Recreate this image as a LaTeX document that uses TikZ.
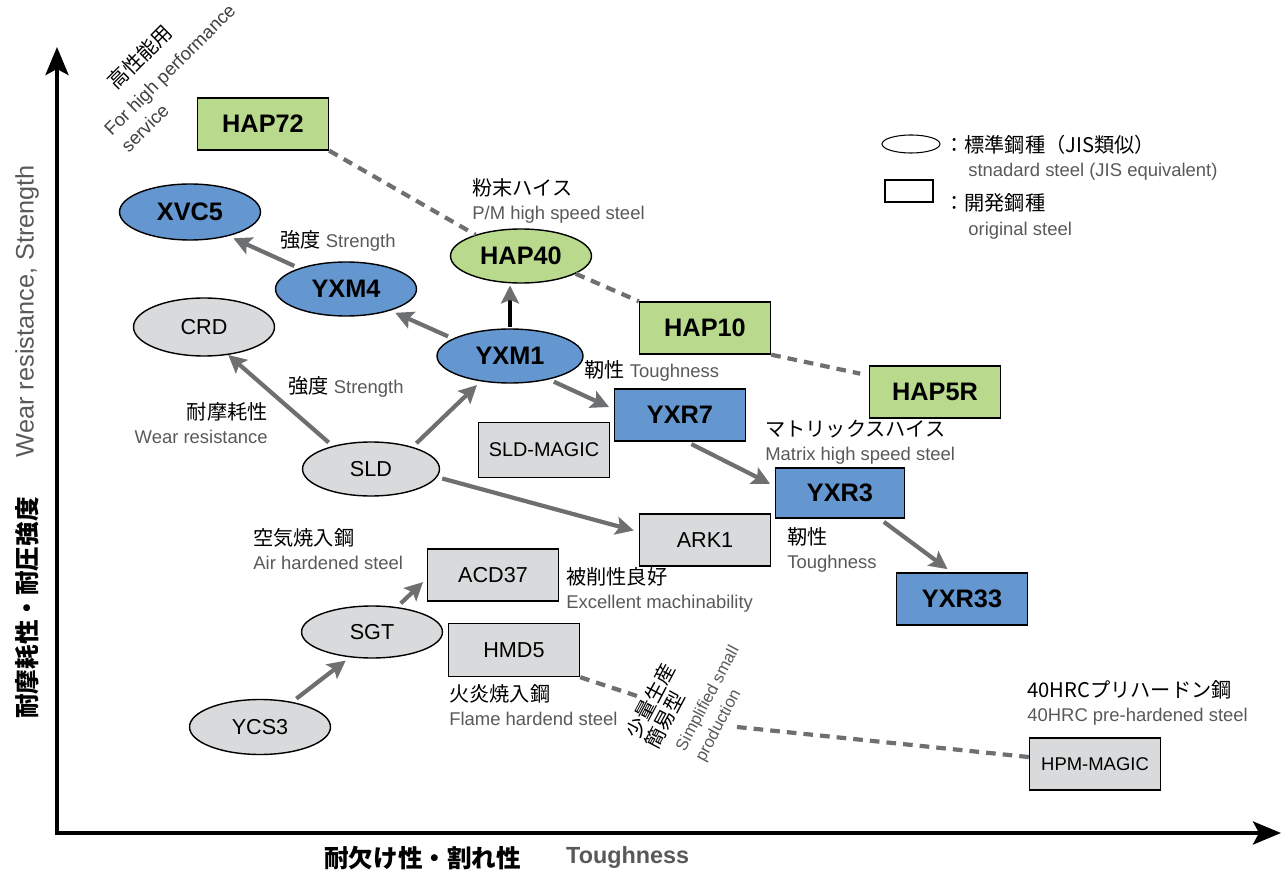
\documentclass[tikz,border=0pt]{standalone}
\usepackage{fontspec}
\setmainfont{Liberation Sans}
\newfontfamily\jpfont{Noto Sans CJK JP}
\usetikzlibrary{shapes.geometric,arrows.meta}

\definecolor{steelblue}{RGB}{100,150,208}
\definecolor{steelgreen}{RGB}{185,217,140}
\definecolor{steelgray}{RGB}{216,218,219}
\definecolor{arrowgray}{RGB}{110,111,113}
\definecolor{textgray}{RGB}{88,89,91}

\newcommand{\jtext}[1]{{\jpfont\color{black}\fontsize{11.5}{13.6}\selectfont #1}}

\tikzset{
  stdsteel/.style={ellipse, draw, line width=0.8pt, inner sep=0pt,
    minimum width=2.82cm, minimum height=1.08cm},
  devsteel/.style={rectangle, draw, line width=0.8pt, inner sep=0pt,
    minimum width=2.62cm, minimum height=1.04cm},
  bluegrade/.style={fill=steelblue, font=\bfseries\fontsize{14.4}{16}\selectfont},
  greengrade/.style={fill=steelgreen, font=\bfseries\fontsize{14.4}{16}\selectfont},
  graygrade/.style={fill=steelgray, font=\fontsize{12.3}{14}\selectfont},
  lbl/.style={inner sep=0pt, align=left, text=textgray,
    font=\fontsize{10.5}{13.6}\selectfont},
  upgrade/.style={draw=arrowgray, line width=2.4pt, shorten <=3pt, shorten >=3pt,
    arrows={-Stealth[length=0.36cm,width=0.36cm,inset=0.07cm]}},
  dashlink/.style={draw=arrowgray, line width=2.4pt, dash pattern=on 5.5pt off 4pt},
  axisline/.style={line width=2.2pt,
    arrows={Stealth[length=0.56cm,width=0.46cm,inset=0.12cm]-Stealth[length=0.56cm,width=0.46cm,inset=0.12cm]}}
}

\begin{document}
\begin{tikzpicture}[x=0.02cm,y=-0.02cm]
  \useasboundingbox (0,0) rectangle (1287,874);

  % Axes
  \coordinate (origin) at (57,833);
  \coordinate (ytop) at (57,47);
  \coordinate (xend) at (1281,833);
  \draw[axisline] (ytop) -- (origin) -- (xend);
  \node[anchor=west, font=\bfseries\fontsize{14}{16}\selectfont] (xlabeljp) at (318,858) {\jpfont 耐欠け性・割れ性};
  \node[anchor=west, text=textgray, font=\bfseries\fontsize{13.3}{16}\selectfont] (xlabelen) at (560,858) {Toughness};
  \node[rotate=90, font=\bfseries\fontsize{14}{16}\selectfont] (ylabeljp) at (27,608) {\jpfont 耐摩耗性・耐圧強度};
  \node[rotate=90, text=textgray, font=\fontsize{14.4}{16}\selectfont] (ylabelen) at (27,311) {Wear resistance, Strength};

  % High performance corner
  \node[lbl, rotate=45] (hpjp) at (140,57) {\jtext{高性能用}};
  \node[lbl, rotate=45, text=black!75] (hpen) at (178,78) {For high performance\\service};

  % Powder metallurgy grades
  \node[devsteel, greengrade] (HAP72) at (263,124) {HAP72};
  \node[stdsteel, greengrade] (HAP40) at (521,256) {HAP40};
  \node[devsteel, greengrade] (HAP10) at (705,328) {HAP10};
  \node[devsteel, greengrade] (HAP5R) at (935,392) {HAP5R};

  % High speed and strength grades
  \node[stdsteel, bluegrade, minimum height=1.12cm] (XVC5) at (190,212) {XVC5};
  \node[stdsteel, bluegrade] (YXM4) at (346,289) {YXM4};
  \node[stdsteel, bluegrade, minimum width=2.92cm] (YXM1) at (510,356) {YXM1};
  \node[devsteel, bluegrade] (YXR7) at (680,415) {YXR7};
  \node[devsteel, bluegrade, minimum width=2.58cm, minimum height=1cm] (YXR3) at (840,493) {YXR3};
  \node[devsteel, bluegrade] (YXR33) at (962,599) {YXR33};

  % Cold work grades
  \node[stdsteel, graygrade, minimum height=1.16cm] (CRD) at (204,327) {CRD};
  \node[stdsteel, graygrade, minimum width=2.74cm] (SLD) at (371,469) {SLD};
  \node[devsteel, graygrade, minimum height=1.1cm, font=\fontsize{11.3}{14}\selectfont] (SLDM) at (544,450) {SLD-MAGIC};
  \node[devsteel, graygrade] (ARK1) at (705,540) {ARK1};
  \node[devsteel, graygrade] (ACD37) at (493,575) {ACD37};
  \node[stdsteel, graygrade, minimum height=1.04cm] (SGT) at (372,632) {SGT};
  \node[devsteel, graygrade, minimum height=1.06cm] (HMD5) at (514,650) {HMD5};
  \node[stdsteel, graygrade, minimum height=1.1cm] (YCS3) at (260,727) {YCS3};
  \node[devsteel, graygrade, font=\fontsize{10.5}{14}\selectfont] (HPM) at (1095,764) {HPM-MAGIC};

  % Labels
  \node[lbl, anchor=west] (strA) at (280,241) {\jtext{強度} Strength};
  \node[lbl, anchor=west] (pmlabel) at (472,201) {\jtext{粉末ハイス}\\P/M high speed steel};
  \node[lbl, anchor=west] (strB) at (288,387) {\jtext{強度} Strength};
  \node[lbl, anchor=east, align=right] (wearlabel) at (268,423) {\jtext{耐摩耗性}\\Wear resistance};
  \node[lbl, anchor=west] (tghA) at (584,371) {\jtext{靭性} Toughness};
  \node[lbl, anchor=west] (matrixlabel) at (765,442) {\jtext{マトリックスハイス}\\Matrix high speed steel};
  \node[lbl, anchor=west] (airlabel) at (253,549) {\jtext{空気焼入鋼}\\Air hardened steel};
  \node[lbl, anchor=west] (machlabel) at (566,590) {\jtext{被削性良好}\\Excellent machinability};
  \node[lbl, anchor=west] (tghB) at (787,550) {\jtext{靭性}\\Toughness};
  \node[lbl, anchor=west] (flamelabel) at (449,705) {\jtext{火炎焼入鋼}\\Flame hardend steel};
  \node[lbl, anchor=west] (prelabel) at (1027,703) {\jtext{40HRCプリハードン鋼}\\40HRC pre-hardened steel};
  \node[lbl, rotate=62, font=\fontsize{10.5}{12.5}\selectfont] (smalljp) at (660,706) {\jtext{少量生産}\\\jtext{簡易型}};
  \node[lbl, rotate=62, font=\fontsize{9.5}{12.5}\selectfont] (smallen) at (718,704) {Simplified small\\production};

  % Legend
  \node[stdsteel, fill=white, line width=0.6pt, minimum width=1.16cm, minimum height=0.36cm] (legstd) at (911,144) {};
  \node[lbl, anchor=west] (legstdjp) at (944,145) {\jtext{：標準鋼種（JIS類似）}};
  \node[lbl, anchor=west] (legstden) at (968,172) {stnadard steel (JIS equivalent)};
  \node[devsteel, fill=white, line width=0.6pt, minimum width=0.96cm, minimum height=0.44cm] (legdev) at (909,191) {};
  \node[lbl, anchor=west] (legdevjp) at (944,203) {\jtext{：開発鋼種}};
  \node[lbl, anchor=west] (legdeven) at (968,231) {original steel};

  % Arrows
  \draw[upgrade] (YXM4.156) -- (XVC5.-32);
  \draw[upgrade] (YXM1.163) -- (YXM4.-26);
  \draw[upgrade, draw=black, line width=2.8pt, shorten <=1pt, shorten >=1pt,
    arrows={-Stealth[length=0.36cm,width=0.36cm,inset=0.07cm,color=arrowgray]}]
    (YXM1.north) -- (YXM1.north |- HAP40.south);
  \draw[upgrade] (YXM1.-31) -- (YXR7.175);
  \draw[upgrade, shorten >=0pt] (SLD.149) -- (CRD.-49);
  \draw[upgrade] (SLD.28) -- (YXM1.-139);
  \draw[upgrade] (SLD.-7) -- (ARK1.173);
  \draw[upgrade] (YXR7.-76) -- (YXR3.174);
  \draw[upgrade] (YXR3.-33) -- (YXR33.111);
  \draw[upgrade] (SGT.45) -- (ACD37.183);
  \draw[upgrade] (YCS3.38) -- (SGT.-131);

  % Dashed links
  \draw[dashlink] (HAP72.south east) -- (HAP40.155);
  \draw[dashlink] (HAP40.-18) -- (HAP10.north west);
  \draw[dashlink, shorten >=5pt] (HAP10.south east) -- (HAP5R.166);
  \coordinate (breakA) at (637,696);
  \coordinate (breakB) at (737,727);
  \draw[dashlink] (HMD5.south east) -- (breakA);
  \draw[dashlink] (breakB) -- (HPM.174);

\end{tikzpicture}
\end{document}
